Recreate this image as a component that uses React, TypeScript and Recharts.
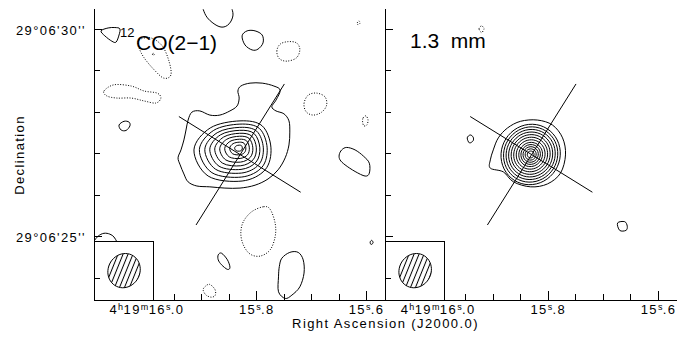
import { ScatterChart, Scatter, XAxis, YAxis, ReferenceArea } from 'recharts';

type Pair = [number, number];

// map frame: RA in seconds of 4h19m, Dec in arcsec of 29°06'
const RA_MIN = 15.5665;
const RA_MAX = 16.0965;
const DEC_MIN = 23.474;
const DEC_MAX = 30.489;
// contour offsets below are arcsec (x to the west, y to the north) from this position
const RA0 = 15.8306;
const DEC0 = 26.982;
const ARCSEC_PER_S = 13.118; // 15 cos(dec)

const raTicks = [16.05, 16.0, 15.95, 15.9, 15.85, 15.8, 15.75, 15.7, 15.65, 15.6];
const raMajor = [16.0, 15.8, 15.6];
const decTicks = [24, 25, 26, 27, 28, 29, 30];
const decMajor = [25, 30];
const decLabels: Record<number, string> = { 25: "29°06'25''", 30: "29°06'30''" };
const raLabels = [
  { ra: 16.0, parts: [['4', 'h'], ['19', 'm'], ['16', 's']], frac: '0' },
  { ra: 15.8, parts: [['15', 's']], frac: '8' },
  { ra: 15.6, parts: [['15', 's']], frac: '6' },
];

// 12CO(2-1) panel
const coOuter: Pair[] = [
  [0.02, 1.65], [0.24, 1.72], [0.53, 1.72], [0.81, 1.65], [0.96, 1.55], [0.86, 1.31], [0.76, 1.15],
  [0.86, 1.05], [1.05, 0.98], [1.17, 0.81], [1.19, 0.54], [1.17, 0.23], [1.08, -0.08], [0.91, -0.37],
  [0.67, -0.59], [0.36, -0.74], [0, -0.81], [-0.36, -0.81], [-0.72, -0.78], [-1.03, -0.76], [-1.24, -0.66],
  [-1.34, -0.47], [-1.43, -0.25], [-1.48, -0.08], [-1.41, 0.11], [-1.34, 0.35], [-1.29, 0.59], [-1.24, 0.83],
  [-1.15, 1.02], [-0.96, 1.05], [-0.72, 0.95], [-0.48, 0.95], [-0.24, 1.05], [-0.07, 1.17], [-0.02, 1.36],
  [-0.05, 1.53],
];
const coPeak: Pair = [-0.02, 0.16];
const coRingShape: Pair[] = [
  [0.76, 0], [0.55, 0.53], [0.02, 0.65], [-0.69, 0.48], [-1.08, -0.05], [-0.74, -0.68], [0.07, -0.8], [0.62, -0.53],
];
const coRingScale = [1, 0.88, 0.76, 0.65, 0.54, 0.43, 0.32, 0.21, 0.1];
const coSolid: Pair[][] = [
  [[-3.32, 2.98], [-3.15, 3.05], [-2.99, 3.06], [-2.87, 3.03], [-2.89, 2.88], [-2.96, 2.71], [-3.06, 2.73], [-3.23, 2.86]],
  [[-2.89, 0.71], [-2.77, 0.8], [-2.65, 0.78], [-2.63, 0.69], [-2.72, 0.58], [-2.84, 0.59]],
  [[0.05, 2.86], [0.17, 2.98], [0.36, 2.98], [0.53, 2.88], [0.55, 2.69], [0.43, 2.54], [0.29, 2.52], [0.12, 2.64]],
  [[2.37, -0.01], [2.43, 0.11], [2.55, 0.17], [2.75, 0.11], [2.95, -0.04], [3.09, -0.21], [3.09, -0.45], [2.99, -0.52], [2.75, -0.41], [2.51, -0.25], [2.39, -0.13]],
  [[3.11, -2.11], [3.15, -2.07], [3.18, -2.13], [3.13, -2.17]],
  [[1.0, -2.5], [1.19, -2.36], [1.39, -2.36], [1.51, -2.54], [1.53, -2.86], [1.43, -3.19], [1.24, -3.39], [1.08, -3.47], [0.92, -3.31], [0.92, -2.95], [0.94, -2.7]],
  [[-0.52, -2.42], [-0.44, -2.38], [-0.3, -2.54], [-0.24, -2.72], [-0.3, -2.77], [-0.44, -2.66], [-0.52, -2.54]],
];
const coDotted: Pair[][] = [
  [[-2.41, 2.76], [-2.13, 2.81], [-1.86, 2.62], [-1.7, 2.26], [-1.65, 1.92], [-1.82, 1.84], [-2.05, 2.04], [-2.29, 2.33], [-2.41, 2.57]],
  [[-2.09, 2.42], [-2.06, 2.44], [-2.05, 2.4], [-2.08, 2.39]],
  [[-3.25, 1.53], [-3.01, 1.68], [-2.6, 1.65], [-2.29, 1.53], [-1.98, 1.48], [-1.89, 1.36], [-2.01, 1.24], [-2.29, 1.29], [-2.6, 1.36], [-2.94, 1.36], [-3.18, 1.41]],
  [[0.88, 2.49], [0.96, 2.66], [1.15, 2.72], [1.35, 2.69], [1.43, 2.53], [1.35, 2.33], [1.12, 2.25], [0.94, 2.31]],
  [[2.8, 3.17], [2.84, 3.22], [2.87, 3.17], [2.82, 3.13]],
  [[1.53, 1.23], [1.63, 1.43], [1.83, 1.48], [2.03, 1.39], [2.07, 1.19], [1.95, 1.02], [1.75, 0.95], [1.58, 1.03]],
  [[2.94, 0.88], [3.01, 0.93], [3.06, 0.83], [3.03, 0.71], [2.96, 0.69], [2.93, 0.78]],
  [[0.56, -1.26], [0.72, -1.32], [0.84, -1.66], [0.84, -1.98], [0.72, -2.3], [0.48, -2.45], [0.24, -2.4], [0.08, -2.18], [0.02, -1.9], [0.08, -1.62], [0.28, -1.38]],
  [[-0.84, -3.19], [-0.73, -3.13], [-0.6, -3.25], [-0.59, -3.39], [-0.68, -3.44], [-0.81, -3.39], [-0.88, -3.27]],
];
// contours cut by the frame
const coOpen: Pair[][] = [
  [[-0.88, 3.5], [-0.79, 3.31], [-0.62, 3.15], [-0.43, 3.07], [-0.26, 3.15], [-0.17, 3.34], [-0.19, 3.5]],
  [[-3.49, -2.09], [-3.39, -1.97], [-3.25, -1.9], [-3.11, -1.92], [-3.01, -1.99], [-2.94, -2.11]],
];

// 1.3 mm panel
const mmOuter: Pair[] = [
  [-0.79, 0.4], [-0.57, 0.64], [-0.26, 0.8], [0.14, 0.83], [0.5, 0.71], [0.74, 0.4], [0.81, -0.01], [0.69, -0.45],
  [0.38, -0.71], [-0.02, -0.78], [-0.43, -0.66], [-0.67, -0.42], [-0.98, -0.33], [-0.98, -0.13], [-0.91, 0.11],
];
const mmPeak: Pair = [-0.02, 0];
const mmRingRadius = [0.7, 0.64, 0.58, 0.52, 0.46, 0.4, 0.34, 0.28, 0.23, 0.18, 0.13, 0.08];
const mmSolid: Pair[][] = [
  [[-1.53, 0.4], [-1.46, 0.47], [-1.39, 0.42], [-1.39, 0.33], [-1.48, 0.28]],
  [[2.05, -1.65], [2.22, -1.62], [2.28, -1.73], [2.25, -1.83], [2.1, -1.83]],
];
const mmDotted: Pair[][] = [[[-1.25, 3.03], [-1.19, 3.1], [-1.13, 3.03], [-1.19, 2.94]]];

// outflow and disk axes
const axisLines: Pair[][] = [
  [[-1.46, 0.915], [1.45, -0.91]],
  [[1.06, 1.7], [-1.05, -1.7]],
];
const beam = { center: [-2.77, -2.8] as Pair, minor: 0.38, major: 0.42, tilt: 25 };
const beamBox = { width: 1.41, height: 1.4 };

const sky = (p: Pair) => ({ ra: RA0 - p[0] / ARCSEC_PER_S, dec: DEC0 + p[1] });

const ellipse = (c: Pair, a: number, b: number, tilt: number): Pair[] => {
  const t = (tilt * Math.PI) / 180;
  return Array.from({ length: 24 }, (_, i) => {
    const u = (i / 24) * 2 * Math.PI;
    const ex = a * Math.cos(u);
    const ey = b * Math.sin(u);
    return [c[0] + ex * Math.cos(t) + ey * Math.sin(t), c[1] - ex * Math.sin(t) + ey * Math.cos(t)] as Pair;
  });
};

const coRings = coRingScale.map((s) => coRingShape.map(([x, y]) => [coPeak[0] + s * x, coPeak[1] + s * y] as Pair));
const mmRings = mmRingRadius.map((r) => ellipse(mmPeak, r, r * 1.05, 25));
const beamShape = ellipse(beam.center, beam.minor, beam.major, beam.tilt);

// closed Catmull-Rom curve for d3-shape line
const closedSpline = (context: any) => {
  let pts: Pair[] = [];
  return {
    areaStart() {},
    areaEnd() {},
    lineStart() {
      pts = [];
    },
    point(x: number, y: number) {
      pts.push([x, y]);
    },
    lineEnd() {
      const n = pts.length;
      if (n < 3) return;
      context.moveTo(pts[0][0], pts[0][1]);
      for (let i = 0; i < n; i++) {
        const p0 = pts[(i + n - 1) % n];
        const p1 = pts[i];
        const p2 = pts[(i + 1) % n];
        const p3 = pts[(i + 2) % n];
        context.bezierCurveTo(
          p1[0] + (p2[0] - p0[0]) / 6, p1[1] + (p2[1] - p0[1]) / 6,
          p2[0] - (p3[0] - p1[0]) / 6, p2[1] - (p3[1] - p1[1]) / 6,
          p2[0], p2[1]
        );
      }
      context.closePath();
    },
  };
};

const font = { fontFamily: '"Liberation Sans", Arial, sans-serif', fontSize: 13, letterSpacing: 1.4, fill: '#000' };
const noDot = () => <g />;
const isRaMajor = (v: number) => raMajor.some((m) => Math.abs(m - v) < 1e-6);

const RaText = ({ x, y, value }: { x: number; y: number; value: number }) => {
  const lab = raLabels.find((l) => Math.abs(l.ra - value) < 1e-6);
  if (!lab) return null;
  const segs: { t: string; sup?: boolean }[] = [];
  lab.parts.forEach(([n, u]) => {
    segs.push({ t: n });
    segs.push({ t: u, sup: true });
  });
  segs.push({ t: '.' + lab.frac });
  let raised = false;
  return (
    <text x={x} y={y + 14} textAnchor="middle" {...font}>
      {segs.map((s, i) => {
        const dy = s.sup && !raised ? -4.5 : !s.sup && raised ? 4.5 : 0;
        raised = !!s.sup;
        return (
          <tspan key={i} dy={dy} fontSize={s.sup ? 9 : 13} letterSpacing={s.sup ? 0.4 : 1.4}>
            {s.t}
          </tspan>
        );
      })}
    </text>
  );
};

const BottomTick = (p: any) => {
  const v = p.payload.value;
  const major = isRaMajor(v);
  return (
    <g>
      {v < 15.99 && (
        <line x1={p.x} x2={p.x} y1={p.y} y2={p.y - (major ? 9 : 6)} stroke="#000" shapeRendering="crispEdges" />
      )}
      {major && <RaText x={p.x} y={p.y} value={v} />}
    </g>
  );
};

const TopTick = (p: any) => (
  <line x1={p.x} x2={p.x} y1={p.y} y2={p.y + (isRaMajor(p.payload.value) ? 9 : 6)} stroke="#000" shapeRendering="crispEdges" />
);

const LeftTick = (p: any) => {
  const major = decMajor.includes(p.payload.value);
  return (
    <g>
      <line x1={p.x} x2={p.x + (major ? 8 : 6)} y1={p.y} y2={p.y} stroke="#000" shapeRendering="crispEdges" />
      {p.showLabel && major && (
        <text x={p.x - 8} y={p.y + 5.5} textAnchor="end" {...font}>
          {decLabels[p.payload.value]}
        </text>
      )}
    </g>
  );
};

const RightTick = (p: any) => (
  <line x1={p.x} x2={p.x - (decMajor.includes(p.payload.value) ? 8 : 6)} y1={p.y} y2={p.y} stroke="#000" shapeRendering="crispEdges" />
);

type PanelProps = {
  x0: number;
  w: number;
  yLabels: boolean;
  solid: Pair[][];
  dotted: Pair[][];
  open: Pair[][];
};

const frameLine = { stroke: '#000', strokeWidth: 1, shapeRendering: 'crispEdges' };
const contourLine = { stroke: '#000', strokeWidth: 1 };
const dottedLine = { stroke: '#000', strokeWidth: 1, strokeDasharray: '1 1.6' };

const Panel = ({ x0, w, yLabels, solid, dotted, open }: PanelProps) => (
  <div style={{ position: 'absolute', left: x0 - 94, top: 0 }}>
    <ScatterChart width={94 + w + 20} height={339} margin={{ top: 9, right: 20, bottom: 0, left: 0 }}>
      <XAxis type="number" dataKey="ra" domain={[RA_MIN, RA_MAX]} reversed allowDataOverflow ticks={raTicks}
        interval={0} height={39} tickSize={0} tickMargin={0} tickLine={false} axisLine={frameLine} tick={BottomTick} />
      <XAxis xAxisId="top" orientation="top" type="number" dataKey="ra" domain={[RA_MIN, RA_MAX]} reversed
        allowDataOverflow ticks={raTicks} interval={0} height={0} tickSize={0} tickMargin={0} tickLine={false}
        axisLine={frameLine} tick={TopTick} />
      <YAxis type="number" dataKey="dec" domain={[DEC_MIN, DEC_MAX]} allowDataOverflow ticks={decTicks} interval={0}
        width={94} tickSize={0} tickMargin={0} tickLine={false} axisLine={frameLine}
        tick={(p: any) => <LeftTick {...p} showLabel={yLabels} />} />
      <YAxis yAxisId="right" orientation="right" type="number" dataKey="dec" domain={[DEC_MIN, DEC_MAX]}
        allowDataOverflow ticks={decTicks} interval={0} width={0} tickSize={0} tickMargin={0} tickLine={false}
        axisLine={frameLine} tick={RightTick} />
      <ReferenceArea x1={RA_MAX - beamBox.width / ARCSEC_PER_S} x2={RA_MAX} y1={DEC_MIN} y2={DEC_MIN + beamBox.height}
        fill="none" stroke="#000" strokeWidth={1} shapeRendering="crispEdges" />
      {solid.map((c, i) => (
        <Scatter key={'s' + i} data={c.map(sky)} line={contourLine} lineJointType={closedSpline as any} shape={noDot}
          isAnimationActive={false} />
      ))}
      {dotted.map((c, i) => (
        <Scatter key={'d' + i} data={c.map(sky)} line={dottedLine} lineJointType={closedSpline as any} shape={noDot}
          isAnimationActive={false} />
      ))}
      {open.map((c, i) => (
        <Scatter key={'o' + i} data={c.map(sky)} line={contourLine} lineJointType="natural" shape={noDot}
          isAnimationActive={false} />
      ))}
      {axisLines.map((c, i) => (
        <Scatter key={'a' + i} data={c.map(sky)} line={contourLine} lineJointType="linear" shape={noDot}
          isAnimationActive={false} />
      ))}
      <Scatter data={beamShape.map(sky)} line={{ stroke: '#000', strokeWidth: 1, fill: 'url(#beamHatch)' }}
        lineJointType={closedSpline as any} shape={noDot} isAnimationActive={false} />
    </ScatterChart>
  </div>
);

const App = () => (
  <div style={{ position: 'fixed', left: 0, top: 0, width: 696, height: 339, background: '#fff', overflow: 'hidden' }}>
    <svg width={0} height={0} style={{ position: 'absolute' }}>
      <defs>
        <pattern id="beamHatch" width={4.6} height={4.6} patternUnits="userSpaceOnUse" patternTransform="rotate(22)">
          <line x1={2.3} y1={0} x2={2.3} y2={4.6} stroke="#000" strokeWidth={1} />
        </pattern>
      </defs>
    </svg>
    <Panel x0={94} w={291} yLabels solid={[coOuter, ...coRings, ...coSolid]} dotted={coDotted} open={coOpen} />
    <Panel x0={385} w={292} yLabels={false} solid={[mmOuter, ...mmRings, ...mmSolid]} dotted={mmDotted} open={[]} />
    <svg width={696} height={339} style={{ position: 'absolute', left: 0, top: 0, pointerEvents: 'none' }}>
      <g fontFamily='"Liberation Sans", Arial, sans-serif' fill="#000">
        <text x={120} y={37} fontSize={13}>12</text>
        <text x={136} y={50} fontSize={21}>CO(2−1)</text>
        <text x={410} y={48} fontSize={21} style={{ whiteSpace: 'pre' }}>1.3  mm</text>
        <text x={385.5} y={328} fontSize={13} letterSpacing={1.4} textAnchor="middle">Right Ascension (J2000.0)</text>
        <text x={24} y={155} fontSize={13} letterSpacing={1.4} textAnchor="middle" transform="rotate(-90 24 155)">
          Declination
        </text>
      </g>
    </svg>
  </div>
);

export default App;
